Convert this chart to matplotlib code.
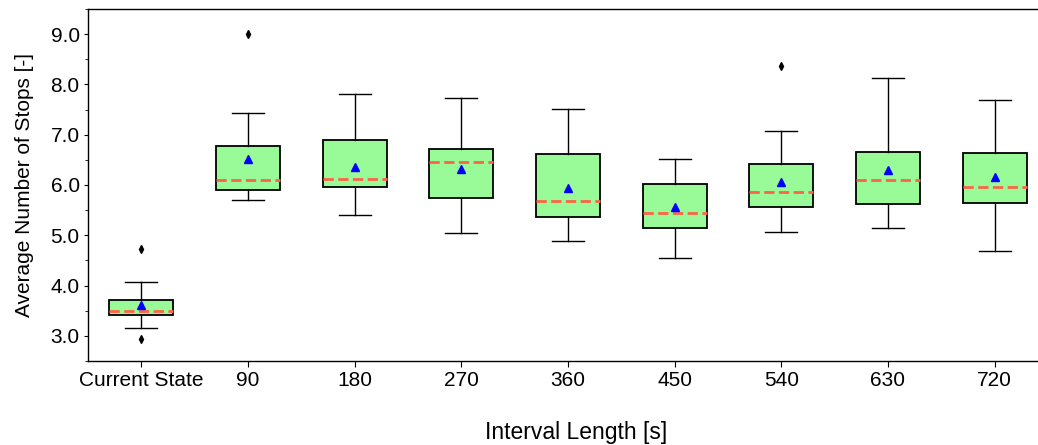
import matplotlib
matplotlib.use("Agg")
import matplotlib.pyplot as plt
from matplotlib.ticker import MultipleLocator, FormatStrFormatter

plt.rcParams['font.family'] = ['Liberation Sans', 'DejaVu Sans']

categories = ["Current State", "90", "180", "270", "360", "450", "540", "630", "720"]
whislo = [3.15, 5.70, 5.40, 5.05, 4.88, 4.55, 5.06, 5.14, 4.68]
q1     = [3.42, 5.90, 5.96, 5.74, 5.37, 5.14, 5.57, 5.63, 5.64]
med    = [3.49, 6.10, 6.11, 6.45, 5.69, 5.44, 5.87, 6.09, 5.97]
q3     = [3.72, 6.78, 6.89, 6.72, 6.61, 6.01, 6.41, 6.66, 6.64]
whishi = [4.07, 7.44, 7.80, 7.74, 7.52, 6.51, 7.07, 8.13, 7.70]
means  = [3.61, 6.51, 6.35, 6.31, 5.95, 5.57, 6.06, 6.29, 6.15]
fliers = [[4.73, 2.93], [9.00], [], [], [], [], [8.37], [], []]

stats = []
for i, c in enumerate(categories):
    stats.append(dict(label=c, whislo=whislo[i], q1=q1[i], med=med[i], q3=q3[i],
                      whishi=whishi[i], mean=means[i], fliers=fliers[i]))

fig = plt.figure(figsize=(10.38, 4.45), dpi=100)
ax = fig.add_axes([88/1038, 1-361/445, 960/1038, 352/445])

ax.bxp(stats, positions=range(len(categories)), widths=0.6, showmeans=True,
       patch_artist=True,
       boxprops=dict(facecolor='#98FB98', edgecolor='black', linewidth=1.3),
       whiskerprops=dict(color='black', linewidth=1.0),
       capprops=dict(color='black', linewidth=1.0),
       medianprops=dict(color='#FF6347', linestyle='--', linewidth=2.0),
       meanprops=dict(marker='^', markerfacecolor='blue', markeredgecolor='blue', markersize=6),
       flierprops=dict(marker='d', markerfacecolor='black', markeredgecolor='black', markersize=4))

ax.set_xlim(-0.5, len(categories) - 0.5)
ax.set_ylim(2.5, 9.5)
ax.yaxis.set_major_locator(MultipleLocator(1.0))
ax.yaxis.set_minor_locator(MultipleLocator(0.5))
ax.yaxis.set_major_formatter(FormatStrFormatter('%.1f'))
ax.set_xticks(range(len(categories)))
ax.set_xticklabels(categories)
ax.tick_params(axis='both', labelsize=15)
ax.tick_params(axis='x', length=4)
ax.tick_params(axis='y', which='major', length=3, pad=3)
ax.tick_params(axis='y', which='minor', length=2)
for s in ax.spines.values():
    s.set_linewidth(1.0)

ax.set_ylabel("Average Number of Stops [-]", fontsize=15, labelpad=12)
xl = ax.set_xlabel("Interval Length [s]", fontsize=16.5)
xl.set_verticalalignment('center')
ax.xaxis.set_label_coords((576 - 88) / 960, -(432 - 361) / 352)

fig.savefig("out.png", dpi=100)
